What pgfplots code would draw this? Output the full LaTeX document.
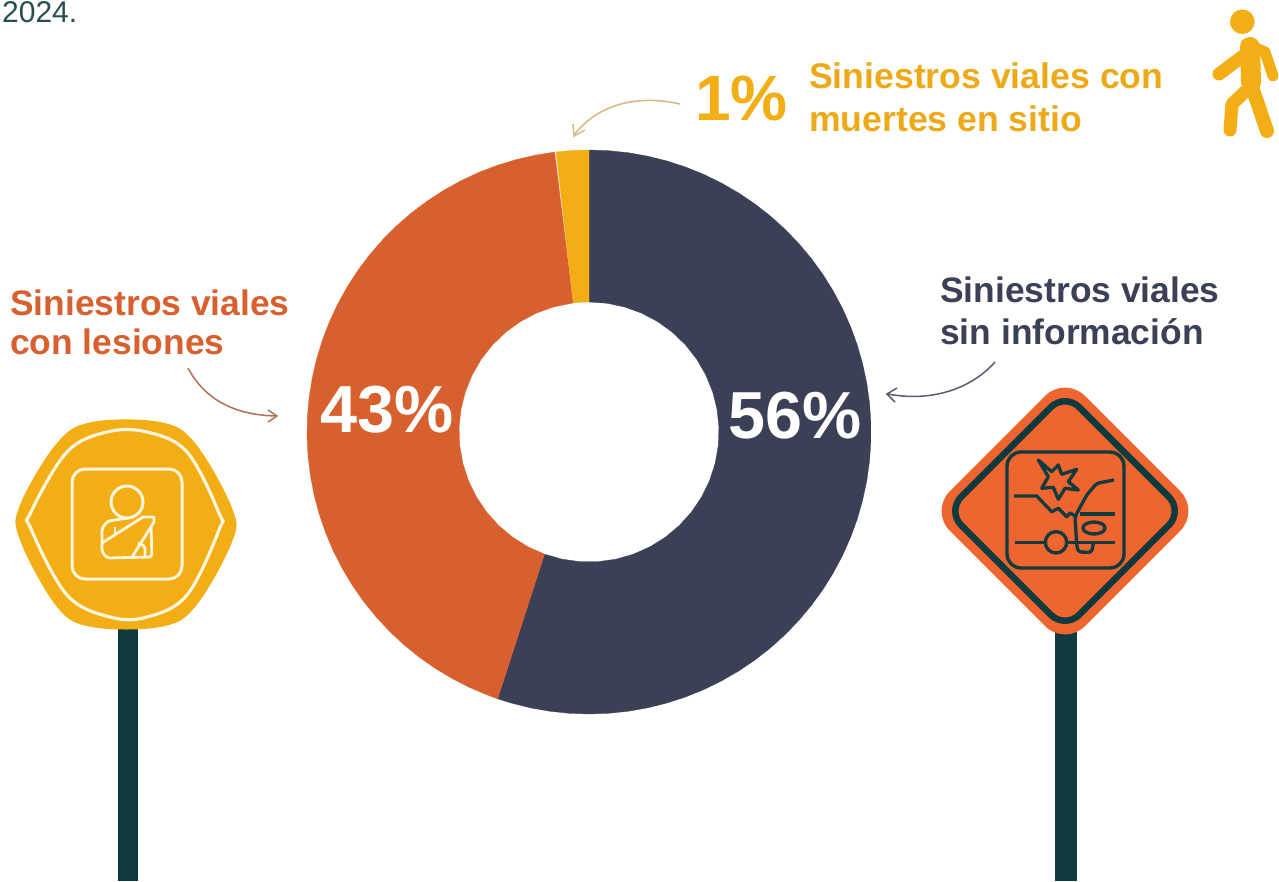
\documentclass[border=0pt]{standalone}
\usepackage{fontspec}
\setmainfont{Liberation Sans}
\usepackage{pgfplots}
\pgfplotsset{compat=1.18}
\definecolor{navy}{HTML}{3C4056}
\definecolor{slorange}{HTML}{D8602E}
\definecolor{slyellow}{HTML}{F2AE14}
\definecolor{signorange}{HTML}{EE652F}
\definecolor{posts}{HTML}{0F3B3E}
\definecolor{cream}{HTML}{FFF6DC}
\newcommand{\fs}[1]{\fontsize{#1}{#1}\selectfont}
\begin{document}
\begin{tikzpicture}
\useasboundingbox (0,0) rectangle (1279pt,881pt);
% donut, origin at its centre
\begin{axis}[
at={(0,0)},
anchor=south west,
x=1pt,
y=1pt,
xmin=-589,
xmax=690,
ymin=-449,
ymax=432,
hide axis,
clip=false
]
\addplot[data cs=polar,fill=navy,draw=navy,line width=0.3pt] coordinates {
(90,282) (86,282) (82,282) (78,282) (74,282) (70,282) (66,282) (62,282) (58,282) (54,282)
(50,282) (46,282) (42,282) (38,282) (34,282) (30,282) (26,282) (22,282) (18,282) (14,282)
(10,282) (6,282) (2,282) (-2,282) (-6,282) (-10,282) (-14,282) (-18,282) (-22,282) (-26,282)
(-30,282) (-34,282) (-38,282) (-42,282) (-46,282) (-50,282) (-54,282) (-58,282) (-62,282) (-66,282)
(-70,282) (-74,282) (-78,282) (-82,282) (-86,282) (-90,282) (-94,282) (-98,282) (-102,282) (-106,282)
(-108.9,282)
(-110,130) (-102,130) (-94,130) (-86,130) (-78,130) (-70,130) (-62,130) (-54,130) (-46,130) (-38,130)
(-30,130) (-22,130) (-14,130) (-6,130) (2,130) (10,130) (18,130) (26,130) (34,130) (42,130)
(50,130) (58,130) (66,130) (74,130) (82,130) (90,130)
} -- cycle;
\addplot[data cs=polar,fill=slorange,draw=slorange,line width=0.3pt] coordinates {
(97,282) (101,282) (105,282) (109,282) (113,282) (117,282) (121,282) (125,282) (129,282) (133,282)
(137,282) (141,282) (145,282) (149,282) (153,282) (157,282) (161,282) (165,282) (169,282) (173,282)
(177,282) (181,282) (185,282) (189,282) (193,282) (197,282) (201,282) (205,282) (209,282) (213,282)
(217,282) (221,282) (225,282) (229,282) (233,282) (237,282) (241,282) (245,282) (249,282) (251.1,282)
(250,130) (242,130) (234,130) (226,130) (218,130) (210,130) (202,130) (194,130) (186,130) (178,130)
(170,130) (162,130) (154,130) (146,130) (138,130) (130,130) (122,130) (114,130) (106,130) (97,130)
} -- cycle;
\addplot[data cs=polar,fill=slyellow,draw=slyellow,line width=0.3pt] coordinates {
(90,282) (93,282) (96.7,282) (97,130) (93.5,130) (90,130)
} -- cycle;
\end{axis}
% everything else, in picture pixels from the top left
\begin{axis}[
at={(0,0)},
anchor=south west,
x=1pt,
y=1pt,
xmin=0,
xmax=1279,
ymin=0,
ymax=881,
y dir=reverse,
hide axis,
clip=false
]
% posts
\fill[posts] (118,620) rectangle (138,881);
\fill[posts] (1055,625) rectangle (1077,881);
% left sign
\fill[slyellow] plot[smooth cycle,tension=0.6] coordinates {
(92,422) (160,422) (195,443) (232,508) (232,542) (195,607) (160,627)
(92,627) (57,607) (20,540) (20,505) (57,443)};
\draw[cream,line width=3.2pt] plot[smooth cycle,tension=0.6] coordinates {
(107,432) (147,432) (187,452) (219,513) (219,530) (187,595) (147,617)
(110,617) (67,595) (31,529) (31,512) (67,452)};
\draw[cream,line width=3pt,rounded corners=13pt] (72,469) rectangle (182,579);
\draw[cream,line width=3pt] (127,502) circle[radius=16pt];
\draw[cream,line width=2.8pt,line join=round,rounded corners=3pt]
(128,518) -- (108,521) -- (102,528) -- (102,552) -- (107,558) -- (152,557) -- (151,527);
\draw[cream,line width=2.8pt,line join=round]
(102,543) -- (143,517) -- (154,517) -- (154,522) -- (132,557);
\draw[cream,line width=2.8pt,line join=round] (115,527) -- (115,535);
\draw[cream,line width=2.8pt,line join=round,rounded corners=3pt] (138,543) -- (145,546) -- (145,557);
% right sign
\fill[signorange,rounded corners=28pt] (1065,376) -- (1200,511) -- (1065,646) -- (930,511) -- cycle;
\draw[posts,line width=6.5pt,rounded corners=20pt] (1065,393) -- (1183,511) -- (1065,629) -- (947,511) -- cycle;
\draw[posts,line width=3.4pt,rounded corners=14pt] (1007,452) rectangle (1124,568);
\draw[posts,line width=3.3pt,line join=round]
(1038.3,460) -- (1051.7,471.7) -- (1058.3,465) -- (1061.7,474.3) -- (1076.7,469.3) -- (1068.3,481.7)
-- (1078.3,490) -- (1065,488.3) -- (1058.3,499.3) -- (1053.3,487.3) -- (1041.7,488.3) -- (1048.3,476.7) -- cycle;
\draw[posts,line width=3.3pt,line join=round]
(1014,496) -- (1036.7,496) -- (1051.7,511.7) -- (1058.3,508.3) -- (1066.7,516.7) -- (1070,513) -- (1076.7,516.7);
\draw[posts,line width=3.3pt,line join=round,rounded corners=3pt]
(1114,480) -- (1096.7,483.3) -- (1086.7,495) -- (1075,516.7) -- (1076.7,545) -- (1078.3,552) -- (1091.7,552.3) -- (1093.3,543.3);
\draw[posts,line width=3.3pt] (1080,514) -- (1115,514);
\draw[posts,line width=3.3pt] (1094,528) circle[x radius=11pt,y radius=6pt];
\draw[posts,line width=3.3pt] (1056,542.3) circle[radius=10.7pt];
\draw[posts,line width=3.3pt] (1015,542.7) -- (1045,542.7);
\draw[posts,line width=3.3pt] (1066,542.7) -- (1115,542.7);
% pedestrian
\fill[slyellow] (1242.3,21.7) circle[radius=12.3pt];
\draw[slyellow,line width=20pt,line cap=round] (1250,47) -- (1251,82);
\draw[slyellow,line width=13pt,line cap=round] (1243,56) -- (1219,74);
\draw[slyellow,line width=11pt,line cap=round,line join=round] (1246,44) -- (1265,52) -- (1273,76);
\draw[slyellow,line width=14pt,line cap=round] (1251,84) -- (1267,131);
\draw[slyellow,line width=13pt,line cap=round,line join=round] (1247,90) -- (1232,104) -- (1230,130);
% arrows
\draw[color=black!30!slyellow!50!white,line width=1.6pt] (680,104) .. controls (640,95) and (600,102) .. (574,135);
\draw[color=black!30!slyellow!50!white,line width=1.6pt] (573,124) -- (574,136) -- (585,130);
\draw[color=slorange!55!gray,line width=1.5pt] (188,368) .. controls (205,400) and (235,415) .. (276,416);
\draw[color=slorange!55!gray,line width=1.5pt] (268,410) -- (277,416) -- (268,422);
\draw[color=navy!85!white,line width=1.5pt] (995,362) .. controls (970,390) and (930,402) .. (888,394);
\draw[color=navy!85!white,line width=1.5pt] (897,388) -- (887,394) -- (895,402);
% text
\node[anchor=base west,inner sep=0pt,text=posts!90!white] at (axis cs:2,22) {\fs{30}2024.};
\node[anchor=base west,inner sep=0pt,text=slyellow] at (axis cs:695,120) {\fs{64}\bfseries 1\%};
\node[anchor=base west,inner sep=0pt,text=slyellow!90!brown] at (axis cs:809,88) {\fs{35.6}\bfseries Siniestros viales con};
\node[anchor=base west,inner sep=0pt,text=slyellow!90!brown] at (axis cs:809,131) {\fs{35.6}\bfseries muertes en sitio};
\node[anchor=base west,inner sep=0pt,text=slorange] at (axis cs:10,315) {\fs{35.4}\bfseries Siniestros viales};
\node[anchor=base west,inner sep=0pt,text=slorange] at (axis cs:10,354) {\fs{35.4}\bfseries con lesiones};
\node[anchor=base west,inner sep=0pt,text=navy] at (axis cs:940,302) {\fs{35.4}\bfseries Siniestros viales};
\node[anchor=base west,inner sep=0pt,text=navy] at (axis cs:940,344) {\fs{35.4}\bfseries sin información};
\node[anchor=base west,inner sep=0pt,text=white] at (axis cs:320,432) {\fs{66.5}\bfseries 43\%};
\node[anchor=base west,inner sep=0pt,text=white] at (axis cs:728,438) {\fs{66.5}\bfseries 56\%};
\end{axis}
\end{tikzpicture}
\end{document}
